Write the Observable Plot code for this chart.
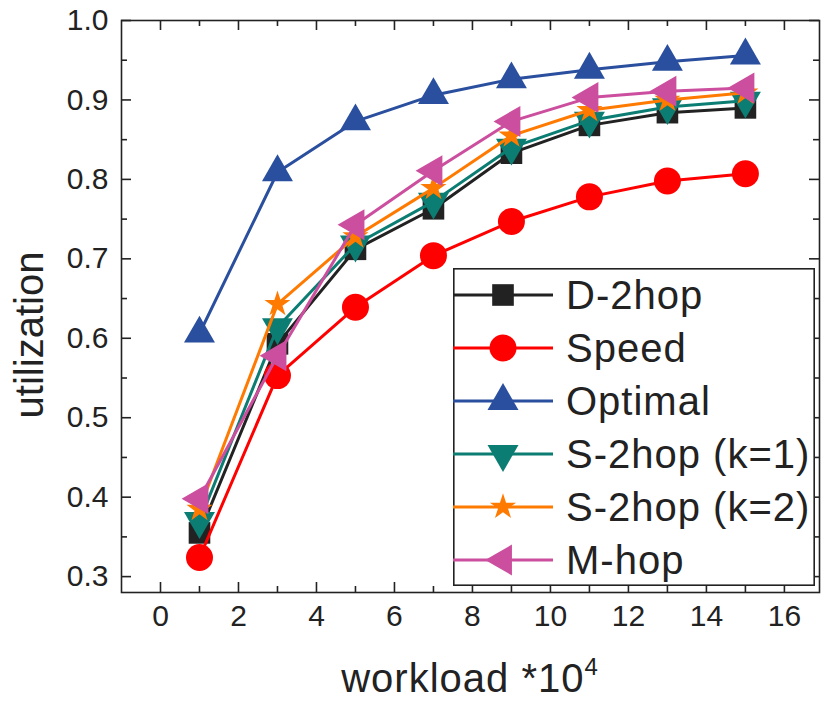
<!DOCTYPE html>
<html><head><meta charset="utf-8">
<script src="https://cdn.jsdelivr.net/npm/d3@7"></script>
<script src="https://cdn.jsdelivr.net/npm/@observablehq/plot@0.6"></script>
<style>
body{margin:0;background:#fff;font-family:"Liberation Sans",Arial,sans-serif;}
#wrap{position:relative;width:821px;height:702px;overflow:hidden;}
#legend{position:absolute;left:453px;top:268px;}
</style></head><body><div id="wrap"></div>
<script>
// ---- data ----
const workload = [1, 3, 5, 7, 9, 11, 13, 15];
const d2hop   = [0.355, 0.593, 0.712, 0.763, 0.833, 0.868, 0.884, 0.890];
const speed   = [0.324, 0.553, 0.639, 0.704, 0.747, 0.778, 0.798, 0.807];
const optimal = [0.606, 0.809, 0.873, 0.906, 0.926, 0.938, 0.948, 0.956];
const s2hopK1 = [0.370, 0.614, 0.718, 0.772, 0.840, 0.874, 0.891, 0.899];
const s2hopK2 = [0.385, 0.643, 0.728, 0.789, 0.855, 0.887, 0.900, 0.909];
const mhop    = [0.398, 0.578, 0.743, 0.811, 0.873, 0.903, 0.911, 0.915];

const seriesNames = ["D-2hop", "Speed", "Optimal", "S-2hop (k=1)", "S-2hop (k=2)", "M-hop"];
const seriesValues = [d2hop, speed, optimal, s2hopK1, s2hopK2, mhop];

const xTickLabels = [0, 2, 4, 6, 8, 10, 12, 14, 16];
const xMinorTicks = [1, 3, 5, 7, 9, 11, 13, 15];
const yTickLabels = [0.3, 0.4, 0.5, 0.6, 0.7, 0.8, 0.9, 1.0];
const yMinorTicks = [0.35, 0.45, 0.55, 0.65, 0.75, 0.85, 0.95];

// ---- styles ----
const seriesColors = ["#222222", "#ff0000", "#2a4f9e", "#0b7d72", "#ff7a00", "#cc4e9e"];
const seriesSymbols = ["square", "circle", "triangle", "triangle", "star", "triangle"];
const seriesRotate = [0, 0, 0, 180, 0, -90];
const seriesR = [12.2, 13.5, 11.5, 11.5, 8.2, 11.5];
const d3Symbols = {square: d3.symbolSquare, circle: d3.symbolCircle, triangle: d3.symbolTriangle, star: d3.symbolStar};

const W = 821, H = 702, mL = 121, mR = 2, mT = 20, mB = 110;
const innerW = W - mL - mR, innerH = H - mT - mB;
const axisColor = "#222";
const FONT = "'Liberation Sans', Arial, sans-serif";

const rows = [];
seriesNames.forEach((name, i) => {
  workload.forEach((x, j) => rows.push({series: name, idx: i, x, y: seriesValues[i][j]}));
});

const marks = [];
seriesNames.forEach((name, i) => {
  const data = rows.filter(d => d.idx === i);
  marks.push(Plot.line(data, {x: "x", y: "y", stroke: seriesColors[i], strokeWidth: 3}));
  marks.push(Plot.dot(data, {x: "x", y: "y", symbol: () => seriesSymbols[i], fill: seriesColors[i],
    stroke: "none", r: seriesR[i], rotate: seriesRotate[i]}));
});

const tickStyle = {stroke: axisColor, strokeWidth: 1.6};
const chart = Plot.plot({
  width: W, height: H,
  marginLeft: mL, marginRight: mR, marginTop: mT, marginBottom: mB,
  style: {fontFamily: FONT, background: "#fff", color: axisColor},
  x: {domain: [-1, 16.9]},
  y: {domain: [0.28, 1.0]},
  symbol: {type: "identity"},
  marks: [
    ...marks,
    Plot.frame({stroke: axisColor, strokeWidth: 1.6}),
    Plot.ruleX(xTickLabels, {...tickStyle, insetTop: innerH - 10}),
    Plot.ruleX(xMinorTicks, {...tickStyle, insetTop: innerH - 6}),
    Plot.ruleX(xTickLabels, {...tickStyle, insetBottom: innerH - 10}),
    Plot.ruleX(xMinorTicks, {...tickStyle, insetBottom: innerH - 6}),
    Plot.ruleY(yTickLabels, {...tickStyle, insetRight: innerW - 10}),
    Plot.ruleY(yMinorTicks, {...tickStyle, insetRight: innerW - 6}),
    Plot.ruleY(yTickLabels, {...tickStyle, insetLeft: innerW - 10}),
    Plot.ruleY(yMinorTicks, {...tickStyle, insetLeft: innerW - 6}),
    Plot.axisX(xTickLabels, {tickSize: 0, tickPadding: 12, fontSize: 30, label: null, fill: axisColor}),
    Plot.axisY(yTickLabels, {tickSize: 0, tickPadding: 13, fontSize: 30, label: null, fill: axisColor, tickFormat: d3.format(".1f")})
  ]
});

const wrap = document.getElementById("wrap");
wrap.appendChild(chart);

// axis titles
const svg = d3.select(chart);
const xt = svg.append("text")
  .attr("x", 470).attr("y", 692)
  .attr("text-anchor", "middle")
  .attr("font-size", 40).attr("fill", axisColor)
  .attr("letter-spacing", 1)
  .attr("font-family", FONT);
xt.append("tspan").text("workload *10");
xt.append("tspan").text("4").attr("font-size", 24).attr("dy", -17);
svg.append("text")
  .attr("transform", "translate(43,335) rotate(-90)")
  .attr("text-anchor", "middle")
  .attr("font-size", 40).attr("fill", axisColor)
  .attr("font-family", FONT)
  .text("utilization");

// legend (inside plot area)
const LW = 362, LH = 318, rowH = 53, row0 = 27;
const leg = d3.select(wrap).append("svg").attr("id", "legend")
  .attr("width", LW).attr("height", LH);
leg.append("rect").attr("x", 0.8).attr("y", 0.8).attr("width", LW - 1.6).attr("height", LH - 1.6)
  .attr("fill", "#fff").attr("stroke", axisColor).attr("stroke-width", 1.6);
seriesNames.forEach((name, i) => {
  const cy = row0 + i * rowH;
  const g = leg.append("g").attr("transform", `translate(0,${cy})`);
  g.append("line").attr("x1", 0).attr("x2", 100).attr("y1", 0).attr("y2", 0)
    .attr("stroke", seriesColors[i]).attr("stroke-width", 3);
  g.append("path")
    .attr("d", d3.symbol().type(d3Symbols[seriesSymbols[i]]).size(Math.PI * seriesR[i] * seriesR[i])())
    .attr("transform", `translate(50,0) rotate(${seriesRotate[i]})`)
    .attr("fill", seriesColors[i]);
  g.append("text").attr("x", 113).attr("y", 0).attr("dy", "0.35em")
    .attr("font-size", 40).attr("fill", axisColor)
    .attr("letter-spacing", 1)
    .attr("font-family", FONT)
    .text(name);
});
</script></body></html>
